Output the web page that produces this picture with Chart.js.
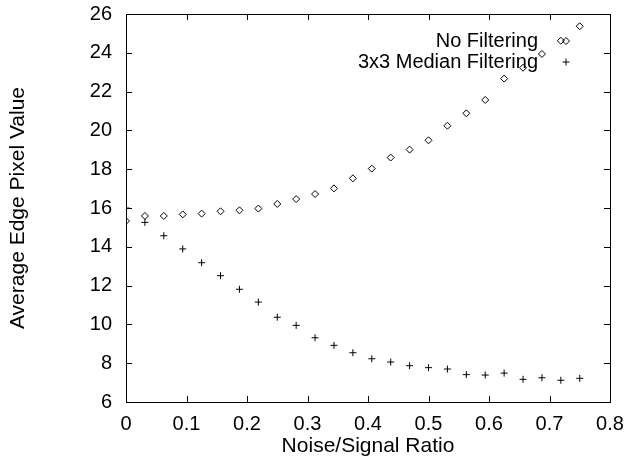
<!DOCTYPE html>
<html lang="en">
<head>
    <meta charset="UTF-8">
    <title>Average Edge Pixel Value</title>
    <script src="https://cdn.jsdelivr.net/npm/chart.js"></script>
    <style>
        html, body { margin: 0; padding: 0; background: #fff; }
        #wrap { width: 625px; height: 457px; position: relative; }
    </style>
</head>
<body>
    <div id="wrap"><canvas id="edgeChart"></canvas></div>

    <script>
        // Data
        const noiseRatio = [0, 0.03125, 0.0625, 0.09375, 0.125, 0.15625, 0.1875, 0.21875, 0.25,
            0.28125, 0.3125, 0.34375, 0.375, 0.40625, 0.4375, 0.46875, 0.5, 0.53125, 0.5625,
            0.59375, 0.625, 0.65625, 0.6875, 0.71875, 0.75];
        const noFiltering = [15.33, 15.59, 15.59, 15.67, 15.71, 15.83, 15.88, 15.97, 16.21,
            16.46, 16.72, 17.01, 17.53, 18.03, 18.60, 19.01, 19.49, 20.24, 20.88,
            21.57, 22.67, 23.23, 23.94, 24.62, 25.37];
        const medianFiltering = [16.0, 15.26, 14.57, 13.89, 13.18, 12.51, 11.81, 11.15, 10.37,
            9.95, 9.31, 8.92, 8.54, 8.23, 8.06, 7.87, 7.77, 7.70, 7.41,
            7.39, 7.49, 7.17, 7.25, 7.12, 7.22];
        const seriesNames = ['No Filtering', '3x3 Median Filtering'];
        const xTicks = [0, 0.1, 0.2, 0.3, 0.4, 0.5, 0.6, 0.7, 0.8];
        const yTicks = [6, 8, 10, 12, 14, 16, 18, 20, 22, 24, 26];

        const FONT = "'Liberation Sans', Arial, Helvetica, sans-serif";
        Chart.defaults.font.family = FONT;
        Chart.defaults.font.size = 20;
        Chart.defaults.color = '#000';

        const toPoints = ys => noiseRatio.map((x, i) => ({ x: x, y: ys[i] }));

        // gnuplot style frame with inward ticks on all four sides
        const framePlugin = {
            id: 'frame',
            afterDatasetsDraw(chart) {
                const { ctx, chartArea: a, scales } = chart;
                const len = 6;
                ctx.save();
                ctx.strokeStyle = '#000';
                ctx.lineWidth = 1;
                ctx.beginPath();
                xTicks.forEach(v => {
                    const px = Math.round(scales.x.getPixelForValue(v)) + 0.5;
                    ctx.moveTo(px, a.bottom); ctx.lineTo(px, a.bottom - len);
                    ctx.moveTo(px, a.top); ctx.lineTo(px, a.top + len);
                });
                yTicks.forEach(v => {
                    const py = Math.round(scales.y.getPixelForValue(v)) + 0.5;
                    ctx.moveTo(a.left, py); ctx.lineTo(a.left + len, py);
                    ctx.moveTo(a.right, py); ctx.lineTo(a.right - len, py);
                });
                ctx.stroke();
                ctx.strokeRect(Math.round(a.left) + 0.5, Math.round(a.top) + 0.5,
                    Math.round(a.right - a.left), Math.round(a.bottom - a.top));
                ctx.restore();
            }
        };

        // key in the top right corner: text right aligned, symbol to its right
        const keyPlugin = {
            id: 'key',
            afterDatasetsDraw(chart) {
                const { ctx, chartArea: a } = chart;
                const textRight = a.right - 72;
                const symX = a.right - 44;
                ctx.save();
                ctx.font = '20px ' + FONT;
                ctx.textAlign = 'right';
                ctx.textBaseline = 'middle';
                chart.data.datasets.forEach((ds, i) => {
                    const y = a.top + 27 + i * 21;
                    ctx.fillStyle = '#000';
                    ctx.fillText(ds.label, textRight, y);
                    ctx.fillStyle = 'rgba(0,0,0,0)';
                    ctx.strokeStyle = '#000';
                    ctx.lineWidth = 1;
                    Chart.helpers.drawPoint(ctx, {
                        pointStyle: ds.pointStyle,
                        radius: ds.pointRadius,
                        borderWidth: 1
                    }, symX, y);
                });
                ctx.restore();
            }
        };

        new Chart(document.getElementById('edgeChart'), {
            type: 'scatter',
            data: {
                datasets: [
                    {
                        label: seriesNames[0],
                        data: toPoints(noFiltering),
                        pointStyle: 'rectRot',
                        pointRadius: 3.5,
                        borderColor: '#000',
                        backgroundColor: 'rgba(0,0,0,0)',
                        borderWidth: 1
                    },
                    {
                        label: seriesNames[1],
                        data: toPoints(medianFiltering),
                        pointStyle: 'cross',
                        pointRadius: 3.5,
                        borderColor: '#000',
                        backgroundColor: '#000',
                        borderWidth: 1
                    }
                ]
            },
            options: {
                responsive: true,
                maintainAspectRatio: false,
                animation: false,
                layout: { padding: { left: 0, right: 15, top: 14, bottom: 0 } },
                plugins: {
                    legend: { display: false },
                    tooltip: { enabled: false }
                },
                elements: { point: { hoverRadius: 3.5 } },
                scales: {
                    x: {
                        type: 'linear',
                        min: 0,
                        max: 0.8,
                        afterBuildTicks: s => { s.ticks = xTicks.map(v => ({ value: v })); },
                        afterFit: s => {
                            s.height = 55;
                            s.paddingLeft = 0;
                            s.paddingRight = 0;
                        },
                        grid: { display: false, drawTicks: false },
                        border: { display: false },
                        ticks: { padding: 10, maxRotation: 0, color: '#000' },
                        title: {
                            display: true,
                            text: 'Noise/Signal Ratio',
                            color: '#000',
                            font: { size: 21, lineHeight: 1.0 },
                            padding: { top: 0, bottom: 0 }
                        }
                    },
                    y: {
                        min: 6,
                        max: 26,
                        afterBuildTicks: s => { s.ticks = yTicks.map(v => ({ value: v })); },
                        afterFit: s => {
                            s.width = 126;
                            s.paddingTop = 0;
                            s.paddingBottom = 0;
                        },
                        grid: { display: false, drawTicks: false },
                        border: { display: false },
                        ticks: { padding: 14, color: '#000' },
                        title: {
                            display: true,
                            text: 'Average Edge Pixel Value',
                            color: '#000',
                            font: { size: 21 },
                            padding: { top: 6, bottom: 0 }
                        }
                    }
                }
            },
            plugins: [framePlugin, keyPlugin]
        });
    </script>
</body>
</html>
